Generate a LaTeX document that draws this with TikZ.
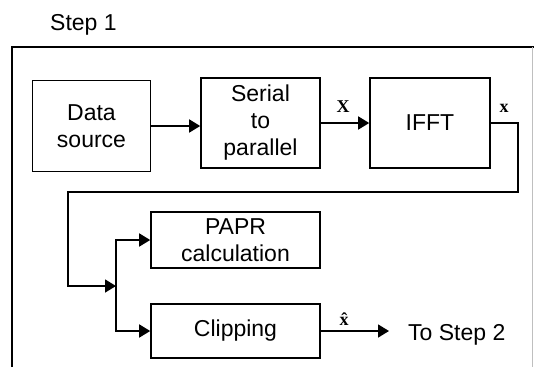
\documentclass[tikz,border=0pt]{standalone}
\usepackage{fontspec}
\setmainfont{Liberation Sans}
\newfontfamily\tnr{Liberation Serif}
\usetikzlibrary{arrows.meta}
\begin{document}
\begin{tikzpicture}[x=1bp,y=-1bp,
  box/.style={draw,line width=1.6bp,align=center,inner sep=0pt,font=\fontsize{23bp}{27bp}\selectfont},
  wire/.style={line width=1.6bp},
  tip/.style={-{Triangle[length=11bp,width=13bp]}},
  lbl/.style={inner sep=0pt,font=\fontsize{23bp}{27bp}\selectfont},
  sym/.style={inner sep=0pt,font=\tnr\bfseries\fontsize{18bp}{20bp}\selectfont}]
\useasboundingbox (0,0) rectangle (534,367);
% frame
\node[lbl,anchor=base west] (title) at (50,30) {Step 1};
\draw[line width=1.6bp] (12,367) -- (12,47) -- (534,47);
\draw[black!25,line width=0.8bp] (532,47) -- (532,367);
% blocks
\node[box,minimum width=118bp,minimum height=91bp] (ds) at (91.5,126) {Data\\source};
\node[box,minimum width=119bp,minimum height=90bp] (sp) at (260.5,123) {Serial\\to\\parallel};
\node[box,minimum width=120bp,minimum height=90bp] (ifft) at (430,123) {IFFT};
\node[box,minimum width=169bp,minimum height=56bp] (papr) at (235.5,240) {PAPR\\calculation};
\node[box,minimum width=169bp,minimum height=54bp] (clip) at (235.5,331) {Clipping};
% connectors
\draw[wire,tip] (ds.east) -- (ds.east -| sp.west);
\draw[wire,tip] (sp.east) -- (ifft.west);
\coordinate (ca) at (518,192);
\coordinate (cb) at (68,286);
\coordinate (j) at (116,286);
\draw[wire,tip] (ifft.east) -| (ca) -- (ca -| cb) -- (cb) -- (j);
\draw[wire,{Triangle[length=11bp,width=13bp]}-{Triangle[length=11bp,width=13bp]}] (papr.west) -| (j) |- (clip.west);
\coordinate (out) at (389,332);
\draw[wire,tip] (clip.east) -- (clip.east -| out);
\node[lbl,anchor=base west] (to2) at (408,340) {To Step 2};
% signal labels
\node[sym,anchor=base] (lX) at (343,112) {X};
\node[sym,anchor=base] (lx) at (504,112) {x};
\node[sym,anchor=base] (lxh) at (344,325) {\^{x}};
\end{tikzpicture}
\end{document}
